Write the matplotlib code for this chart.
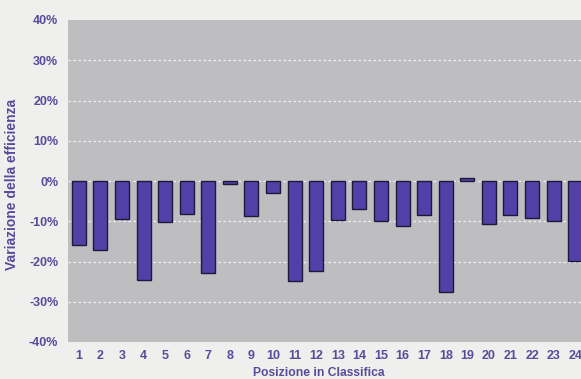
import matplotlib
matplotlib.use("Agg")
import matplotlib.pyplot as plt
from matplotlib.ticker import FuncFormatter

positions = list(range(1, 25))
values = [-16.0, -17.1, -9.5, -24.6, -10.3, -8.2, -22.8, -0.7, -8.8, -3.0,
          -24.9, -22.4, -9.6, -6.9, -9.9, -11.3, -8.5, -27.5, 0.7, -10.6,
          -8.5, -9.1, -9.9, -19.8]
yticks = [-40, -30, -20, -10, 0, 10, 20, 30, 40]

W, H = 581, 379
fig = plt.figure(figsize=(W / 100, H / 100), dpi=100)
fig.patch.set_facecolor("#efefed")

left, right, top, bottom = 68, 586, 20, 342
ax = fig.add_axes([left / W, (H - bottom) / H, (right - left) / W, (bottom - top) / H])
ax.set_facecolor("#bebdc0")

txt = "#5a4a9a"
font = ["Liberation Sans", "DejaVu Sans"]

ax.bar(positions, values, width=0.65, color="#5240a8", edgecolor="#1e1838",
       linewidth=1.0, zorder=3)

ax.set_xlim(0.5, 24.5)
ax.set_ylim(-40, 40)
ax.set_yticks(yticks)
ax.yaxis.set_major_formatter(FuncFormatter(lambda v, p: f"{int(v)}%"))
ax.set_xticks(positions)
ax.set_xticklabels([str(p) for p in positions])

for g in yticks[1:-1]:
    ax.axhline(g, color="#f2f2f2", linestyle=(0, (2, 2)), linewidth=0.9, zorder=1)

for s in ax.spines.values():
    s.set_visible(False)
ax.tick_params(length=0, colors=txt, labelsize=9, pad=7)
ax.tick_params(axis="x", pad=6)
for lab in ax.get_xticklabels() + ax.get_yticklabels():
    lab.set_fontfamily(font)
    lab.set_fontweight("bold")
    lab.set_color(txt)

fig.text(319 / W, 1 - 373 / H, "Posizione in Classifica", ha="center", va="center",
         fontsize=8.7, fontweight="bold", color=txt, family=font)
fig.text(12 / W, 1 - 184 / H, "Variazione della efficienza", ha="center", va="center",
         rotation=90, fontsize=10, fontweight="bold", color=txt, family=font)

fig.savefig("out.png", dpi=100, facecolor=fig.get_facecolor())
